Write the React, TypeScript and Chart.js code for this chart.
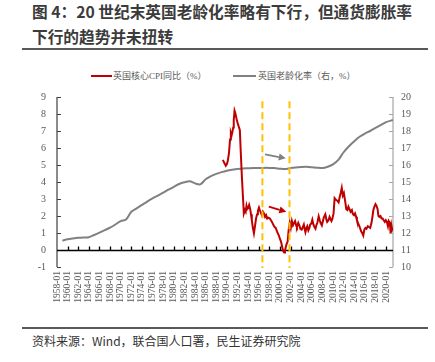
import React, { useEffect, useRef } from "react";
import { Chart, registerables } from "chart.js";

Chart.register(...registerables);

const titleLines = ["图 4：20 世纪末英国老龄化率略有下行，但通货膨胀率", "下行的趋势并未扭转"];
const sourceText = "资料来源：Wind，联合国人口署，民生证券研究院";
const cpiLabel = "英国核心CPI同比（%）";
const agingLabel = "英国老龄化率（右，%）";

const agingYears = [
  1959, 1960, 1961, 1962, 1963, 1964, 1965, 1966, 1967, 1968, 1969, 1970, 1971, 1972, 1973, 1974, 1975,
  1976, 1977, 1978, 1979, 1980, 1981, 1982, 1983, 1984, 1985, 1986, 1987, 1988, 1989, 1990, 1991, 1992,
  1993, 1994, 1995, 1996, 1997, 1998, 1999, 2000, 2001, 2002, 2003, 2004, 2005, 2006, 2007, 2008, 2009,
  2010, 2011, 2012, 2013, 2014, 2015, 2016, 2017, 2018, 2019, 2020, 2021.3,
];
const agingRate = [
  11.55, 11.63, 11.68, 11.72, 11.74, 11.75, 11.88, 12.02, 12.17, 12.31, 12.5, 12.7, 12.8, 13.25, 13.45,
  13.65, 13.85, 14.04, 14.2, 14.37, 14.55, 14.72, 14.88, 14.98, 15.04, 14.92, 14.86, 15.16, 15.35, 15.48,
  15.58, 15.66, 15.72, 15.77, 15.8, 15.81, 15.82, 15.82, 15.83, 15.83, 15.82, 15.78, 15.76, 15.82, 15.86,
  15.88, 15.89, 15.87, 15.84, 15.82, 15.9, 16.04, 16.3, 16.75, 17.1, 17.4, 17.66, 17.85, 18.0, 18.18,
  18.35, 18.52, 18.65,
];

const cpiYears = [
  1989.25, 1989.55, 1989.8, 1990.0, 1990.15, 1990.4, 1990.6, 1990.75, 1990.9, 1991.05, 1991.2, 1991.3,
  1991.45, 1991.6, 1991.8, 1992.0, 1992.25, 1992.45, 1992.6, 1992.8, 1993.0, 1993.2, 1993.4, 1993.55,
  1993.7, 1993.85, 1994.0, 1994.2, 1994.4, 1994.55, 1994.7, 1994.9, 1995.1, 1995.3, 1995.5, 1995.7,
  1995.85, 1996.05, 1996.2, 1996.4, 1996.6, 1996.8, 1997.0, 1997.2, 1997.4, 1997.6, 1997.8, 1998.1,
  1998.3, 1998.5, 1998.8, 1999.0, 1999.2, 1999.5, 1999.8, 2000.0, 2000.2, 2000.45, 2000.6, 2000.8,
  2000.95, 2001.2, 2001.45, 2001.65, 2001.85, 2002.05, 2002.25, 2002.45, 2002.6, 2002.85, 2003.05,
  2003.2, 2003.45, 2003.65, 2003.85, 2004.1, 2004.3, 2004.5, 2004.65, 2004.8, 2005.0, 2005.15, 2005.35,
  2005.55, 2005.7, 2005.9, 2006.1, 2006.3, 2006.5, 2006.7, 2006.9, 2007.05, 2007.3, 2007.5, 2007.65,
  2007.9, 2008.1, 2008.25, 2008.55, 2008.75, 2008.9, 2009.15, 2009.35, 2009.5, 2009.7, 2009.85, 2010.1,
  2010.3, 2010.55, 2010.8, 2011.05, 2011.25, 2011.45, 2011.65, 2011.85, 2012.05, 2012.3, 2012.5, 2012.7,
  2012.9, 2013.1, 2013.3, 2013.55, 2013.75, 2013.95, 2014.15, 2014.35, 2014.5, 2014.7, 2014.9, 2015.1,
  2015.3, 2015.5, 2015.7, 2015.9, 2016.1, 2016.3, 2016.55, 2016.75, 2017.0, 2017.25, 2017.45, 2017.6,
  2017.8, 2018.0, 2018.2, 2018.4, 2018.55, 2018.75, 2018.95, 2019.15, 2019.35, 2019.55, 2019.75,
  2019.95, 2020.15, 2020.35, 2020.5, 2020.7, 2020.85, 2021.0, 2021.15, 2021.3,
];
const cpiValues = [
  5.3, 5.1, 4.95, 5.05, 5.2, 5.7, 6.5, 6.9, 6.75, 6.95, 7.2, 7.65, 8.2, 8.05, 7.75, 7.5, 7.25, 7.05,
  5.9, 4.5, 3.3, 2.15, 2.35, 2.25, 2.6, 2.4, 2.45, 2.65, 2.4, 2.1, 1.75, 1.3, 0.98, 1.4, 1.85, 2.1, 2.3,
  2.5, 2.35, 2.2, 2.05, 2.25, 2.15, 1.95, 2.05, 1.85, 1.9, 1.85, 1.75, 1.65, 1.45, 1.35, 1.3, 1.05,
  0.85, 0.65, 0.5, 0.15, -0.05, -0.15, -0.05, 0.3, 0.5, 1.2, 1.6, 1.3, 1.7, 1.45, 1.55, 1.7, 1.45, 1.35,
  1.6, 1.45, 1.25, 1.2, 1.35, 1.5, 1.25, 1.05, 1.3, 1.4, 1.15, 1.3, 1.5, 1.55, 1.78, 1.5, 1.35, 1.25,
  1.5, 1.6, 1.98, 1.75, 1.6, 1.45, 1.7, 1.9, 2.1, 1.8, 1.65, 1.75, 1.95, 1.85, 1.7, 1.8, 2.15, 3.05,
  2.95, 2.9, 2.8, 3.1, 3.35, 3.65, 3.2, 3.35, 2.85, 2.4, 2.35, 2.55, 2.4, 2.25, 2.35, 2.1, 2.05, 2.15,
  1.95, 1.75, 1.6, 1.45, 1.28, 1.1, 1.0, 0.85, 1.2, 1.3, 1.25, 1.4, 1.35, 1.3, 1.6, 2.0, 2.35, 2.55, 2.7,
  2.6, 2.4, 2.0, 1.95, 2.0, 1.85, 1.85, 1.75, 1.65, 1.75, 1.65, 1.4, 1.7, 1.6, 1.0, 1.45, 1.2, 1.3,
];

const xTickYears = [
  1958, 1960, 1962, 1964, 1966, 1968, 1970, 1972, 1974, 1976, 1978, 1980, 1982, 1984, 1986, 1988, 1990,
  1992, 1994, 1996, 1998, 2000, 2002, 2004, 2006, 2008, 2010, 2012, 2014, 2016, 2018, 2020,
];
const markerYears = [1996.7, 2001.8];
// arrows: [x0, y0, x1, y1] in (year, left-axis value)
const grayArrow = [1997.2, 5.63, 2001.1, 5.39];
const redArrow = [1997.9, 2.55, 2001.2, 2.25];

const RED = "#C00000";
const GRAY = "#808080";
const ORANGE = "#FFC000";
const TICK_COLOR = "#595959";
const SERIF = "'Liberation Serif', 'Noto Sans CJK SC', serif";
const SANS = "'Noto Sans CJK SC', 'Noto Sans', sans-serif";

function drawArrow(ctx: CanvasRenderingContext2D, x0: number, y0: number, x1: number, y1: number, color: string) {
  const ang = Math.atan2(y1 - y0, x1 - x0);
  const head = 7;
  const half = 3.5;
  const bx = x1 - head * Math.cos(ang);
  const by = y1 - head * Math.sin(ang);
  ctx.save();
  ctx.strokeStyle = color;
  ctx.fillStyle = color;
  ctx.lineWidth = 1.8;
  ctx.beginPath();
  ctx.moveTo(x0, y0);
  ctx.lineTo(bx, by);
  ctx.stroke();
  ctx.beginPath();
  ctx.moveTo(x1, y1);
  ctx.lineTo(bx + half * Math.sin(ang), by - half * Math.cos(ang));
  ctx.lineTo(bx - half * Math.sin(ang), by + half * Math.cos(ang));
  ctx.closePath();
  ctx.fill();
  ctx.restore();
}

const axesPlugin = {
  id: "customAxes",
  beforeDatasetsDraw(chart: any) {
    const ctx = chart.ctx as CanvasRenderingContext2D;
    const { left, right, top, bottom } = chart.chartArea;
    const x = chart.scales.x;
    const yl = chart.scales.y;
    const yr = chart.scales.y1;
    ctx.save();
    ctx.strokeStyle = "#404040";
    ctx.lineWidth = 1.2;
    ctx.beginPath();
    ctx.moveTo(left, top);
    ctx.lineTo(left, bottom);
    for (let v = -1; v <= 9; v++) {
      const py = Math.round(yl.getPixelForValue(v)) + 0.5;
      ctx.moveTo(left, py);
      ctx.lineTo(left + 4, py);
    }
    ctx.stroke();
    ctx.strokeStyle = "#A6A6A6";
    ctx.beginPath();
    ctx.moveTo(right, top);
    ctx.lineTo(right, bottom);
    for (let v = 10; v <= 20; v++) {
      const py = Math.round(yr.getPixelForValue(v)) + 0.5;
      ctx.moveTo(right, py);
      ctx.lineTo(right - 4, py);
    }
    ctx.stroke();
    const zy = Math.round(yl.getPixelForValue(0)) + 0.5;
    ctx.strokeStyle = "#000000";
    ctx.lineWidth = 1.3;
    ctx.beginPath();
    ctx.moveTo(left, zy);
    ctx.lineTo(right, zy);
    for (const t of xTickYears) {
      if (t === xTickYears[0]) continue;
      const px = Math.round(x.getPixelForValue(t)) + 0.5;
      ctx.moveTo(px, zy);
      ctx.lineTo(px, zy - 4);
    }
    ctx.stroke();
    ctx.restore();
  },
  afterDatasetsDraw(chart: any) {
    const ctx = chart.ctx as CanvasRenderingContext2D;
    const { bottom } = chart.chartArea;
    const x = chart.scales.x;
    const yl = chart.scales.y;
    ctx.save();
    ctx.strokeStyle = ORANGE;
    ctx.lineWidth = 2;
    ctx.setLineDash([7, 4]);
    for (const m of markerYears) {
      const px = x.getPixelForValue(m);
      ctx.beginPath();
      ctx.moveTo(px, yl.getPixelForValue(8.75));
      ctx.lineTo(px, bottom + 1);
      ctx.stroke();
    }
    ctx.restore();
    const arr = [
      [grayArrow, GRAY],
      [redArrow, RED],
    ] as const;
    for (const [a, c] of arr) {
      drawArrow(
        ctx,
        x.getPixelForValue(a[0]),
        yl.getPixelForValue(a[1]),
        x.getPixelForValue(a[2]),
        yl.getPixelForValue(a[3]),
        c as string
      );
    }
  },
};

export default function App() {
  const canvasRef = useRef<HTMLCanvasElement | null>(null);

  useEffect(() => {
    if (!canvasRef.current) return;
    const chart = new Chart(canvasRef.current, {
      type: "line",
      data: {
        datasets: [
          {
            label: cpiLabel,
            data: cpiYears.map((yr, i) => ({ x: yr, y: cpiValues[i] })),
            borderColor: RED,
            backgroundColor: RED,
            borderWidth: 2,
            pointRadius: 0,
            tension: 0,
            yAxisID: "y",
          },
          {
            label: agingLabel,
            data: agingYears.map((yr, i) => ({ x: yr, y: agingRate[i] })),
            borderColor: GRAY,
            backgroundColor: GRAY,
            borderWidth: 2,
            pointRadius: 0,
            tension: 0.3,
            yAxisID: "y1",
          },
        ],
      },
      options: {
        animation: false,
        responsive: false,
        maintainAspectRatio: false,
        layout: { padding: { top: 42, left: 0, right: 0, bottom: 0 } },
        plugins: { legend: { display: false }, tooltip: { enabled: false } },
        scales: {
          x: {
            type: "linear",
            min: 1958,
            max: 2021.3,
            grid: { display: false, drawTicks: false },
            border: { display: false },
            afterBuildTicks: (s: any) => {
              s.ticks = xTickYears.map((v) => ({ value: v }));
            },
            afterFit: (s: any) => {
              s.height = 58;
            },
            ticks: {
              autoSkip: false,
              maxRotation: 90,
              minRotation: 90,
              padding: 4,
              color: TICK_COLOR,
              font: { family: SERIF, size: 9.5 },
              callback: (v: any) => `${v}-01`,
            },
          },
          y: {
            position: "left",
            min: -1,
            max: 9,
            grid: { display: false, drawTicks: false },
            border: { display: false },
            afterFit: (s: any) => {
              s.width = 57;
            },
            ticks: {
              stepSize: 1,
              padding: 11,
              color: TICK_COLOR,
              font: { family: SERIF, size: 10 },
            },
          },
          y1: {
            position: "right",
            min: 10,
            max: 20,
            grid: { display: false, drawTicks: false },
            border: { display: false },
            afterFit: (s: any) => {
              s.width = 42;
            },
            ticks: {
              stepSize: 1,
              padding: 8,
              color: TICK_COLOR,
              font: { family: SERIF, size: 10 },
            },
          },
        },
      },
      plugins: [axesPlugin],
    });
    return () => chart.destroy();
  }, []);

  return (
    <div
      style={{
        position: "absolute",
        left: 0,
        top: 0,
        width: 435,
        height: 362,
        background: "#ffffff",
        overflow: "hidden",
      }}
    >
      <div
        style={{
          position: "absolute",
          left: 32,
          top: -1,
          fontFamily: SANS,
          fontWeight: 700,
          fontSize: 15.7,
          lineHeight: "25px",
          color: "#3b3b3b",
          whiteSpace: "nowrap",
        }}
      >
        <div>{titleLines[0]}</div>
        <div>{titleLines[1]}</div>
      </div>
      <div style={{ position: "absolute", left: 22, top: 48, width: 406, height: 2, background: "#595959" }} />
      <div
        style={{
          position: "absolute",
          left: 0,
          top: 69,
          width: 435,
          height: 14,
          fontFamily: SERIF,
          fontSize: 9,
          color: "#595959",
          whiteSpace: "nowrap",
        }}
      >
        <div style={{ position: "absolute", left: 91, top: 6, width: 21, height: 2, background: RED }} />
        <div style={{ position: "absolute", left: 113, top: 0, lineHeight: "14px" }}>{cpiLabel}</div>
        <div style={{ position: "absolute", left: 233, top: 6, width: 23, height: 2, background: GRAY }} />
        <div style={{ position: "absolute", left: 258, top: 0, lineHeight: "14px" }}>{agingLabel}</div>
      </div>
      <canvas
        ref={canvasRef}
        width={435}
        height={270}
        style={{ position: "absolute", left: 0, top: 55, width: 435, height: 270 }}
      />
      <div style={{ position: "absolute", left: 22, top: 327, width: 406, height: 2, background: "#595959" }} />
      <div
        style={{
          position: "absolute",
          left: 32,
          top: 332,
          fontFamily: SANS,
          fontSize: 12,
          lineHeight: "18px",
          color: "#333333",
          whiteSpace: "nowrap",
        }}
      >
        {sourceText}
      </div>
    </div>
  );
}
